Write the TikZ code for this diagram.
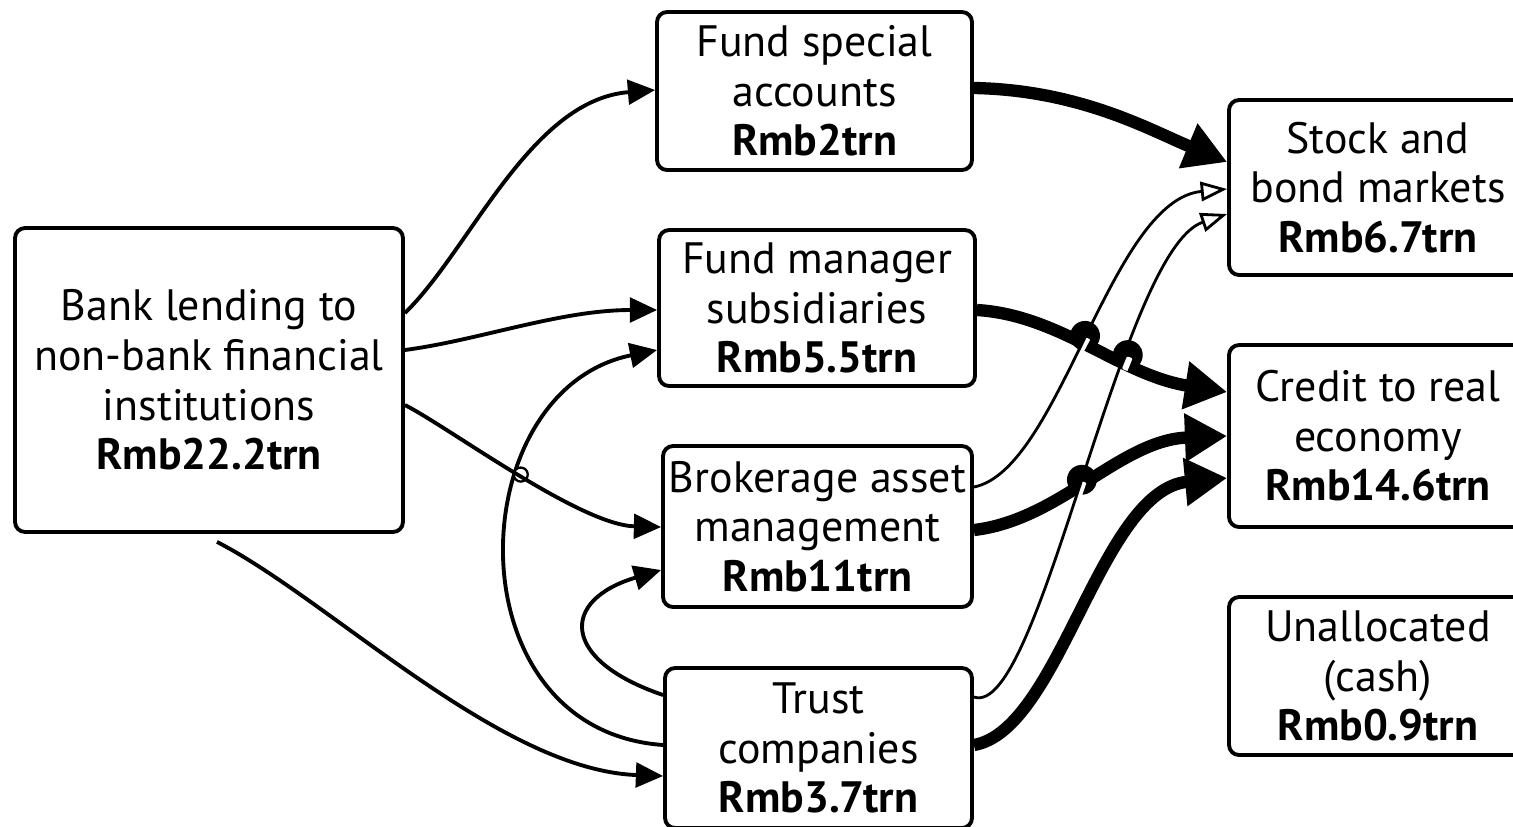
\documentclass[tikz,border=0pt]{standalone}
\usepackage{fontspec}
\setmainfont{PT Sans}
\usetikzlibrary{arrows.meta,calc,intersections}
\newcommand\pathThree{(bank.east |- 0,405) .. controls (450,428) and (580,525) .. (ba.west |- 0,527)}
\newcommand\pathBS{(ba.east |- 0,487) .. controls (1060,470) and (1110,200) .. (sb.west |- 0,189)}
\newcommand\pathTS{(tc.east |- 0,697) .. controls (1040,720) and (1120,250) .. (sb.west |- 0,214)}
\begin{document}
\begin{tikzpicture}[x=0.02cm,y=-0.02cm,
  box/.style={draw, line width=2.2pt, rounded corners=0.2cm, align=center, inner sep=0pt,
    font=\fontsize{25}{28.2}\selectfont},
  thinarr/.style={line width=2.2pt, -{Triangle[length=15.5pt,width=14pt]}},
  thickarr/.style={line width=7pt, -{Triangle[length=24pt,width=26pt]}},
  openarr/.style={line width=1.6pt, -{Triangle[open,length=15pt,width=11pt,line width=1.6pt]}}]
\useasboundingbox (0,0) rectangle (1513,826);
% boxes
\node[box, minimum width=7.76cm, minimum height=6.08cm] (bank) at (209,380)
  {Bank lending to\\non-bank financial\\institutions\\\textbf{Rmb22.2trn}};
\node[box, minimum width=6.3cm, minimum height=3.16cm] (fs) at (814.5,91)
  {Fund special\\accounts\\\textbf{Rmb2trn}};
\node[box, minimum width=6.32cm, minimum height=3.12cm] (fm) at (817,308)
  {Fund manager\\subsidiaries\\\textbf{Rmb5.5trn}};
\node[box, minimum width=6.18cm, minimum height=3.22cm] (ba) at (817.5,526.5)
  {Brokerage asset\\management\\\textbf{Rmb11trn}};
\node[box, minimum width=6.14cm, minimum height=3.2cm] (tc) at (818.5,748)
  {Trust\\companies\\\textbf{Rmb3.7trn}};
\node[box, minimum width=5.96cm, minimum height=3.5cm] (sb) at (1378,187.5)
  {Stock and\\bond markets\\\textbf{Rmb6.7trn}};
\node[box, minimum width=5.96cm, minimum height=3.64cm] (cr) at (1378,436)
  {Credit to real\\economy\\\textbf{Rmb14.6trn}};
\node[box, minimum width=5.96cm, minimum height=3.16cm] (un) at (1378,676)
  {Unallocated\\(cash)\\\textbf{Rmb0.9trn}};
% left-side thin connectors
\draw[thinarr] (bank.east |- 0,313) .. controls (470,250) and (530,100) .. (fs.west |- 0,90);
\draw[thinarr] (bank.east |- 0,350) .. controls (480,340) and (560,310) .. (fm.west |- 0,310);
\draw[thinarr] ($(bank.south -| 217,0)+(0,8)$) .. controls (330,600) and (500,770) .. (tc.west |- 0,776);
\draw[thinarr, name path=e5] (tc.west |- 0,745) .. controls (450,730) and (460,390) .. (fm.west |- 0,350);
\draw[thinarr] (tc.west |- 0,695) .. controls (560,660) and (560,600) .. (ba.west |- 0,570);
\path[name path=e3] \pathThree;
\path[name intersections={of=e3 and e5, by=r1}];
\draw[line width=1.3pt, fill=white] (r1) circle (4pt);
\draw[thinarr] \pathThree;
% thick connectors
\draw[thickarr] (fs.east |- 0,88) .. controls (1080,90) and (1150,130) .. (sb.west |- 0,162);
\draw[thickarr, name path=e8] (fm.east |- 0,310) .. controls (1060,315) and (1120,375) .. (cr.west |- 0,392);
\draw[thickarr, name path=e9] (ba.east |- 0,530) .. controls (1060,520) and (1120,440) .. (cr.west |- 0,436);
\draw[thickarr] (tc.east |- 0,745) .. controls (1060,730) and (1100,490) .. (cr.west |- 0,478);
% hops
\path[name path=e11] \pathBS;
\path[name path=e12] \pathTS;
\path[name intersections={of=e8 and e11, by=h1}];
\path[name intersections={of=e8 and e12, by=h2}];
\path[name intersections={of=e9 and e12, by=h3}];
\fill ([yshift=4pt]h1) circle (8.5pt);
\fill ([yshift=4pt]h2) circle (8.5pt);
\fill ([yshift=4pt]h3) circle (8.5pt);
\begin{scope}
  \clip ([yshift=-1pt]h1) circle (4pt) ([yshift=-1pt]h2) circle (4pt) ([yshift=-1pt]h3) circle (4pt);
  \draw[white, line width=3.4pt] \pathBS;
  \draw[white, line width=3.4pt] \pathTS;
\end{scope}
\draw[openarr] \pathBS;
\draw[openarr] \pathTS;
\end{tikzpicture}
\end{document}
